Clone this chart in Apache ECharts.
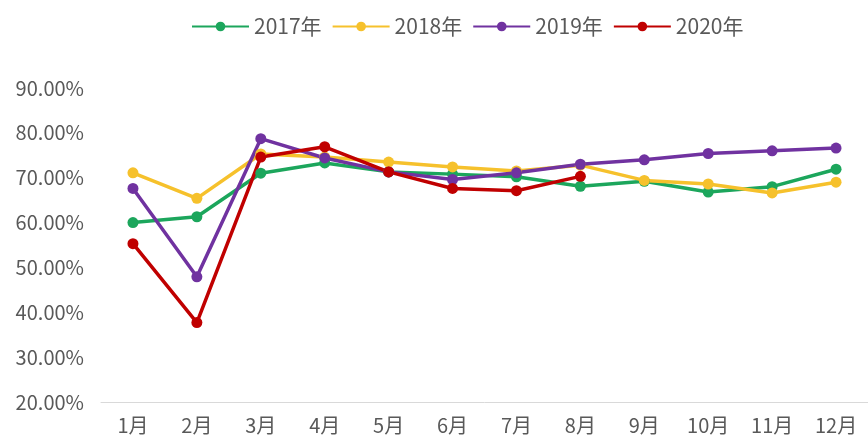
<!DOCTYPE html>
<html><head><meta charset="utf-8">
<script src="https://cdn.jsdelivr.net/npm/echarts@6/dist/echarts.min.js"></script>
<style>html,body{margin:0;padding:0;background:#fff}#c{width:868px;height:439px}</style>
</head><body><div id="c"></div>
<script>
var categories = ['1月','2月','3月','4月','5月','6月','7月','8月','9月','10月','11月','12月'];
var seriesNames = ['2017年','2018年','2019年','2020年'];
var data2017 = [60.0, 61.3, 71.0, 73.3, 71.3, 70.8, 70.2, 68.1, 69.2, 66.8, 68.0, 71.9];
var data2018 = [71.1, 65.4, 75.3, 74.6, 73.5, 72.4, 71.5, 72.8, 69.4, 68.6, 66.6, 69.0];
var data2019 = [67.6, 47.9, 78.7, 74.4, 71.3, 69.6, 71.1, 73.0, 74.0, 75.4, 76.0, 76.6];
var data2020 = [55.3, 37.7, 74.6, 76.9, 71.3, 67.6, 67.1, 70.3];
var yTicks = {min: 20, max: 90, interval: 10};
var colors = ['#1ca65c', '#f6c12c', '#7032a0', '#c00000'];

var all = [data2017, data2018, data2019, data2020];
var chart = echarts.init(document.getElementById('c'));
var font = '"Noto Sans CJK SC", "Noto Sans", sans-serif';
chart.setOption({
  animation: false,
  color: colors,
  textStyle: {fontFamily: font},
  legend: {
    top: 11, left: 186,
    itemWidth: 57, itemHeight: 12, itemGap: 10,
    textStyle: {fontSize: 21, color: '#595959', fontFamily: font},
    data: seriesNames
  },
  grid: {left: 101, top: 88, width: 774, bottom: 37},
  xAxis: {
    type: 'category', data: categories, boundaryGap: true,
    axisLine: {lineStyle: {color: '#d9d9d9', width: 1}},
    axisTick: {show: false},
    axisLabel: {fontSize: 20, color: '#595959', margin: 13, fontFamily: font}
  },
  yAxis: {
    type: 'value', min: yTicks.min, max: yTicks.max, interval: yTicks.interval,
    axisLine: {show: false}, axisTick: {show: false},
    splitLine: {show: false},
    axisLabel: {fontSize: 20, color: '#595959', margin: 17, fontFamily: font,
      formatter: function (v) { return v.toFixed(2) + '%'; }}
  },
  series: seriesNames.map(function (n, i) {
    return {
      name: n, type: 'line', data: all[i],
      symbol: 'circle', symbolSize: 11,
      lineStyle: {width: 3.5},
      itemStyle: {color: colors[i]}
    };
  })
});
</script></body></html>
